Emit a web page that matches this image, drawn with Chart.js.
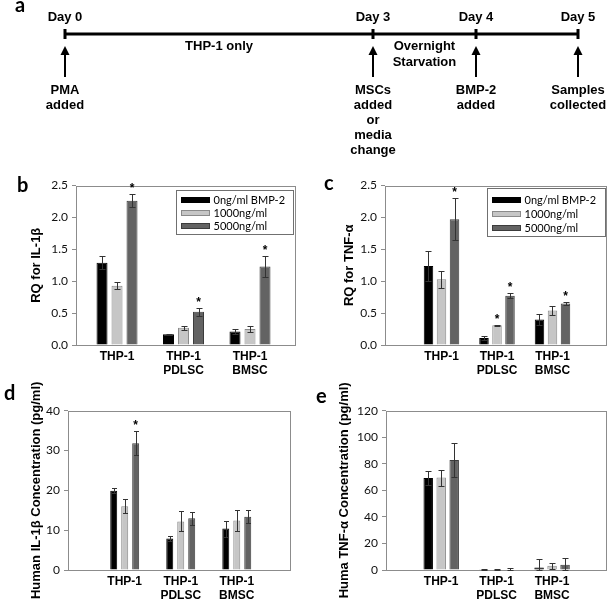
<!DOCTYPE html>
<html>
<head>
<meta charset="utf-8">
<script src="https://cdn.jsdelivr.net/npm/chart.js@4.4.0/dist/chart.umd.min.js"></script>
<style>
  body { margin: 0; background: #fff; }
  #page { position: relative; width: 609px; height: 602px; overflow: hidden; background: #fff; }
  .panel { position: absolute; }
  .tag { position: absolute; font: bold 20px Lato, sans-serif; line-height: 20px; color: #000; }
</style>
</head>
<body>
<div id="page">
  <div class="panel" style="left:0;top:0"><canvas id="timeline" width="609" height="170"></canvas></div>
  <div class="panel" style="left:0;top:170px"><canvas id="chartB" width="300" height="215"></canvas></div>
  <div class="panel" style="left:300px;top:170px"><canvas id="chartC" width="309" height="215"></canvas></div>
  <div class="panel" style="left:0;top:380px"><canvas id="chartD" width="300" height="222"></canvas></div>
  <div class="panel" style="left:300px;top:380px"><canvas id="chartE" width="309" height="222"></canvas></div>
  <div class="tag" style="left:15px;top:-6px">a</div>
  <div class="tag" style="left:17px;top:174px">b</div>
  <div class="tag" style="left:324px;top:172px">c</div>
  <div class="tag" style="left:4px;top:382px">d</div>
  <div class="tag" style="left:316px;top:385px">e</div>
</div>
<script>
// ---- timeline (panel a) ----
const timelineDays = [0, 3, 4, 5];
const dayLabels = ['Day 0', 'Day 3', 'Day 4', 'Day 5'];
const eventLabels = [['PMA', 'added'], ['MSCs', 'added', 'or', 'media', 'change'], ['BMP-2', 'added'], ['Samples', 'collected']];
const phaseDays = [1.5, 3.5];
const phaseLabels = [['THP-1 only'], ['Overnight', 'Starvation']];

// ---- bar panels (b-e) ----
const groupLabels = [['THP-1'], ['THP-1', 'PDLSC'], ['THP-1', 'BMSC']];
const doseLabels = ['0ng/ml BMP-2', '1000ng/ml', '5000ng/ml'];
const doseFill = ['#000000', '#c6c6c6', '#636363'];
const doseEdge = ['#000000', '#8a8a8a', '#3c3c3c'];

// b: RQ for IL-1β
const rqIl1b0 = [1.29, 0.17, 0.21];
const rqIl1b1000 = [0.93, 0.27, 0.25];
const rqIl1b5000 = [2.26, 0.52, 1.23];
const rqIl1bErr0 = [0.10, 0.01, 0.04];
const rqIl1bErr1000 = [0.06, 0.03, 0.04];
const rqIl1bErr5000 = [0.10, 0.06, 0.17];
const rqIl1bStars = [[false, false, false], [false, false, false], [true, true, true]];

// c: RQ for TNF-α
const rqTnf0 = [1.24, 0.11, 0.40];
const rqTnf1000 = [1.03, 0.31, 0.54];
const rqTnf5000 = [1.97, 0.77, 0.65];
const rqTnfErr0 = [0.23, 0.035, 0.085];
const rqTnfErr1000 = [0.13, 0.005, 0.065];
const rqTnfErr5000 = [0.33, 0.04, 0.025];
const rqTnfStars = [[false, false, false], [false, true, false], [true, true, true]];

// d: Human IL-1β concentration (pg/ml)
const concIl1b0 = [19.9, 7.9, 10.4];
const concIl1b1000 = [16.0, 12.2, 12.4];
const concIl1b5000 = [31.8, 13.0, 13.4];
const concIl1bErr0 = [0.6, 0.6, 2.0];
const concIl1bErr1000 = [1.8, 2.5, 2.6];
const concIl1bErr5000 = [3.0, 1.6, 1.6];
const concIl1bStars = [[false, false, false], [false, false, false], [true, false, false]];

// e: Human TNF-α concentration (pg/ml)
const concTnf0 = [69.3, 0.2, 1.8];
const concTnf1000 = [69.6, 0.3, 3.2];
const concTnf5000 = [82.8, 0.3, 4.0];
const concTnfErr0 = [5.5, 0.4, 6.5];
const concTnfErr1000 = [6.0, 0.5, 2.3];
const concTnfErr5000 = [13.0, 1.5, 5.3];
const concTnfStars = [[false, false, false], [false, false, false], [false, false, false]];

const boldFont = '"Liberation Sans", Arial, sans-serif';

// gray frame round the plot area (Excel style)
const frame = {
    id: 'frame',
    beforeDatasetsDraw(chart) {
        const { ctx, chartArea: a } = chart;
        ctx.save();
        ctx.strokeStyle = '#8c8c8c';
        ctx.lineWidth = 1;
        const l = Math.round(a.left) + 0.5, t = Math.round(a.top) + 0.5;
        ctx.strokeRect(l, t, Math.round(a.right) - Math.round(a.left), Math.round(a.bottom) - Math.round(a.top));
        ctx.restore();
    }
};

// error bars and significance stars
const errorBars = {
    id: 'errorBars',
    afterDatasetsDraw(chart, args, opts) {
        const { ctx } = chart;
        const yScale = chart.scales.y;
        ctx.save();
        chart.data.datasets.forEach((ds, k) => {
            chart.getDatasetMeta(k).data.forEach((bar, i) => {
                const v = ds.data[i].y, e = ds.errors[i];
                const x = Math.round(bar.x) + 0.5;
                const top = Math.round(yScale.getPixelForValue(v + e)) + 0.5;
                const bot = Math.round(yScale.getPixelForValue(Math.max(0, v - e))) + 0.5;
                ctx.strokeStyle = opts.color;
                ctx.lineWidth = 1;
                ctx.beginPath();
                ctx.moveTo(x, bot); ctx.lineTo(x, top);
                ctx.moveTo(x - opts.cap / 2, top); ctx.lineTo(x + opts.cap / 2, top);
                ctx.moveTo(x - opts.cap / 2, bot); ctx.lineTo(x + opts.cap / 2, bot);
                ctx.stroke();
                if (ds.stars[i]) {
                    ctx.fillStyle = '#000';
                    ctx.font = 'bold 12px ' + boldFont;
                    ctx.textAlign = 'center';
                    ctx.textBaseline = 'alphabetic';
                    ctx.fillText('*', bar.x, top - 3);
                }
            });
        });
        ctx.restore();
    }
};

// legend box drawn inside the plot area
const innerLegend = {
    id: 'innerLegend',
    afterDraw(chart, args, opts) {
        if (!opts.show) return;
        const { ctx, chartArea } = chart;
        const x0 = Math.round(chartArea.right - opts.right - opts.width) + 0.5;
        const y0 = Math.round(chartArea.top + opts.top) + 0.5;
        ctx.save();
        ctx.fillStyle = '#fff';
        ctx.fillRect(x0, y0, opts.width, opts.height);
        ctx.strokeStyle = '#707070';
        ctx.lineWidth = 1;
        ctx.strokeRect(x0, y0, opts.width, opts.height);
        ctx.font = '11px Lato, sans-serif';
        ctx.textBaseline = 'middle';
        chart.data.datasets.forEach((ds, k) => {
            const cy = Math.round(y0 + opts.first + k * opts.step);
            ctx.fillStyle = ds.backgroundColor;
            ctx.fillRect(x0 + 5, cy - 3, 28, 6);
            ctx.strokeStyle = ds.borderColor;
            ctx.strokeRect(x0 + 5, cy - 2.5, 28, 5);
            ctx.fillStyle = '#000';
            ctx.fillText(ds.label, x0 + 37, cy + 0.5);
        });
        ctx.restore();
    }
};

function makeBarChart(id, cfg) {
    const datasets = doseLabels.map((label, k) => ({
        label: label,
        data: cfg.values[k].map((v, i) => ({ x: i, y: v })),
        errors: cfg.errors[k],
        stars: cfg.stars[k],
        backgroundColor: doseFill[k],
        borderColor: doseEdge[k],
        borderWidth: 1,
        categoryPercentage: cfg.catPct,
        barPercentage: cfg.barPct
    }));
    return new Chart(document.getElementById(id), {
        type: 'bar',
        data: { datasets: datasets },
        options: {
            responsive: false,
            animation: false,
            layout: { padding: { top: cfg.top, right: cfg.right, left: 0, bottom: 0 } },
            plugins: {
                legend: { display: false },
                tooltip: { enabled: false },
                innerLegend: cfg.legend || { show: false },
                errorBars: { color: '#333333', cap: cfg.cap }
            },
            scales: {
                x: {
                    type: 'linear',
                    offset: false,
                    min: cfg.xMin,
                    max: cfg.xMax,
                    grid: { display: false, drawTicks: false, offset: false },
                    border: { display: false },
                    afterBuildTicks: s => { s.ticks = groupLabels.map((_, i) => ({ value: i })); },
                    afterFit: s => { s.height = cfg.xHeight; },
                    ticks: {
                        autoSkip: false,
                        maxRotation: 0,
                        padding: 5,
                        color: '#000',
                        font: { family: boldFont, size: 12, weight: 'bold', lineHeight: 1.15 },
                        callback: v => groupLabels[v]
                    }
                },
                y: {
                    min: 0,
                    max: cfg.yMax,
                    border: { display: false },
                    grid: { drawOnChartArea: false, drawTicks: true, tickLength: 4, color: '#8c8c8c' },
                    afterFit: s => { s.width = cfg.yWidth; },
                    ticks: {
                        stepSize: cfg.yStep,
                        padding: 4,
                        color: '#111',
                        font: { family: 'Lato, sans-serif', size: 12 },
                        callback: v => v.toFixed(cfg.decimals)
                    },
                    title: {
                        display: true,
                        text: cfg.title,
                        color: '#000',
                        padding: { top: cfg.titlePad, bottom: 0 },
                        font: { family: boldFont, size: 13, weight: 'bold' }
                    }
                }
            }
        },
        plugins: [frame, errorBars, innerLegend]
    });
}

makeBarChart('chartB', {
    values: [rqIl1b0, rqIl1b1000, rqIl1b5000],
    errors: [rqIl1bErr0, rqIl1bErr1000, rqIl1bErr5000],
    stars: rqIl1bStars,
    title: 'RQ for IL-1β', titlePad: 29,
    yMax: 2.5, yStep: 0.5, decimals: 1,
    xMin: -0.617, xMax: 2.677, catPct: 0.677, barPct: 0.733, cap: 6,
    top: 15.5, right: 5, yWidth: 76, xHeight: 40,
    legend: { show: true, width: 117, height: 44, right: 2, top: 4.5, first: 9, step: 13 }
});

makeBarChart('chartC', {
    values: [rqTnf0, rqTnf1000, rqTnf5000],
    errors: [rqTnfErr0, rqTnfErr1000, rqTnfErr5000],
    stars: rqTnfStars,
    title: 'RQ for TNF-α', titlePad: 42,
    yMax: 2.5, yStep: 0.5, decimals: 1,
    xMin: -1.018, xMax: 2.964, catPct: 0.703, barPct: 0.73, cap: 6,
    top: 15.5, right: 3, yWidth: 85, xHeight: 40,
    legend: { show: true, width: 118, height: 48, right: 1, top: 2.5, first: 11, step: 14 }
});

makeBarChart('chartD', {
    values: [concIl1b0, concIl1b1000, concIl1b5000],
    errors: [concIl1bErr0, concIl1bErr1000, concIl1bErr5000],
    stars: concIl1bStars,
    title: 'Human IL-1β Concentration (pg/ml)', titlePad: 29,
    yMax: 40, yStep: 10, decimals: 0,
    xMin: -1.012, xMax: 2.95, catPct: 0.588, barPct: 0.636, cap: 5,
    top: 30.7, right: 10, yWidth: 68, xHeight: 32
});

makeBarChart('chartE', {
    values: [concTnf0, concTnf1000, concTnf5000],
    errors: [concTnfErr0, concTnfErr1000, concTnfErr5000],
    stars: concTnfStars,
    title: 'Huma TNF-α Concentration (pg/ml)', titlePad: 37,
    yMax: 120, yStep: 20, decimals: 0,
    xMin: -0.996, xMax: 2.973, catPct: 0.703, barPct: 0.73, cap: 6,
    top: 30.7, right: 3, yWidth: 86, xHeight: 32
});

// timeline: ticks, arrows and captions placed on the day scale
const timelineMarks = {
    id: 'timelineMarks',
    afterDatasetsDraw(chart) {
        const { ctx } = chart;
        const xs = chart.scales.x, ys = chart.scales.y;
        const lineY = Math.round(ys.getPixelForValue(0));
        ctx.save();
        ctx.fillStyle = '#000';
        ctx.strokeStyle = '#000';
        ctx.font = 'bold 13px ' + boldFont;
        ctx.textAlign = 'center';
        ctx.textBaseline = 'middle';
        timelineDays.forEach((d, i) => {
            const x = Math.round(xs.getPixelForValue(d));
            // tick on the line
            ctx.fillRect(x - 1.5, lineY - 5, 3, 10);
            // arrow pointing up at the line
            ctx.fillRect(x - 1, lineY + 19, 2, 24);
            ctx.beginPath();
            ctx.moveTo(x, lineY + 12);
            ctx.lineTo(x - 4.5, lineY + 21);
            ctx.lineTo(x + 4.5, lineY + 21);
            ctx.closePath();
            ctx.fill();
            ctx.fillText(dayLabels[i], x, lineY - 17);
            eventLabels[i].forEach((t, j) => ctx.fillText(t, x, lineY + 56 + j * 15));
        });
        phaseDays.forEach((d, i) => {
            const x = xs.getPixelForValue(d);
            phaseLabels[i].forEach((t, j) => ctx.fillText(t, x, lineY + 12 + j * 16));
        });
        ctx.restore();
    }
};

new Chart(document.getElementById('timeline'), {
    type: 'scatter',
    data: {
        datasets: [{
            data: timelineDays.map(d => ({ x: d, y: 0 })),
            showLine: true,
            borderColor: '#000',
            borderWidth: 3,
            pointRadius: 0
        }]
    },
    options: {
        responsive: false,
        animation: false,
        layout: { padding: 0 },
        plugins: { legend: { display: false }, tooltip: { enabled: false } },
        scales: {
            x: { type: 'linear', display: false, min: -0.633, max: 5.297 },
            y: { type: 'linear', display: false, min: -1, max: 0.25 }
        }
    },
    plugins: [timelineMarks]
});
</script>
</body>
</html>
